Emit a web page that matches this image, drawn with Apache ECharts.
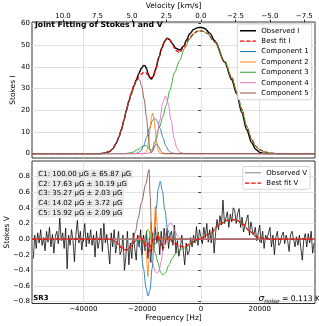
<!DOCTYPE html>
<html><head><meta charset="utf-8">
<script src="https://cdn.jsdelivr.net/npm/echarts@6/dist/echarts.min.js"></script>
<style>html,body{margin:0;padding:0;background:#fff}#c{width:319px;height:326px}</style>
</head><body><div id="c"></div>
<script>
// ---------- data (frequency in Hz) ----------
const freqTicks = [-40000, -20000, 0, 20000];
const velTicks = [10, 7.5, 5, 2.5, 0, -2.5, -5, -7.5];
const iTicks = [0, 10, 20, 30, 40, 50, 60];
const vTicks = [-0.8, -0.6, -0.4, -0.2, 0, 0.2, 0.4, 0.6, 0.8];
const legendI = ['Observed I', 'Best fit I', 'Component 1', 'Component 2', 'Component 3', 'Component 4', 'Component 5'];
const legendV = ['Observed V', 'Best fit V'];
const fitNotes = ['C1: 100.00 \u03bcG \u00b1 65.87 \u03bcG', 'C2: 17.63 \u03bcG \u00b1 10.19 \u03bcG', 'C3: 35.27 \u03bcG \u00b1 2.03 \u03bcG', 'C4: 14.02 \u03bcG \u00b1 3.72 \u03bcG', 'C5: 15.92 \u03bcG \u00b1 2.09 \u03bcG'];

const obsI = [[-57443,0],[-34418,0],[-32718,0.3],[-31017,1.0],[-29997,2.2],[-28738,4.9],[-27956,7.5],[-27038,11],[-26255,15],[-25337,20],[-24555,24],[-23637,27.8],[-22855,31],[-21936,34],[-21154,36.8],[-20236,39.3],[-19454,40.6],[-18944,40.4],[-18433,39],[-17991,37],[-17413,35],[-16835,34.3],[-16223,35.5],[-15372,39],[-14352,44],[-13332,48.5],[-12312,51.8],[-11529,53.2],[-10611,52.5],[-9591,50.5],[-8570,48.5],[-7210,47.7],[-5850,49.5],[-4829,52.5],[-3809,55.2],[-2449,57.2],[-1088,58],[102,58.1],[1292,57.6],[2993,55.5],[4693,52],[8094,42],[10475,34],[12176,27.5],[13876,19],[15577,11],[17277,5],[18637,2],[19996,0.6],[21357,0.1],[23398,0],[38805,0]];
const fitI = [[-57443,0],[-34418,0],[-32718,0.3],[-31017,1.0],[-29997,2.2],[-28738,4.9],[-27956,7.5],[-27038,11],[-26255,15],[-25337,20],[-24555,24],[-23637,27.8],[-22855,31],[-21936,33.5],[-21154,35.3],[-20236,36.6],[-19454,37.4],[-18774,37.3],[-18093,36.3],[-17413,35.2],[-16733,35],[-16053,36.2],[-15372,39],[-14352,44],[-13332,48.5],[-12312,51.8],[-11529,53],[-10611,52.3],[-9591,50],[-8570,47.5],[-7210,46.5],[-5850,49],[-4829,51.5],[-3809,53.5],[-2109,55.8],[-748,56.5],[612,56.4],[1973,55.5],[4693,51.5],[8094,42.5],[10475,35],[12176,28.5],[13876,20.5],[15577,12.5],[17277,6.5],[18637,3.5],[19996,1.8],[21697,0.8],[23398,0.3],[26120,0],[38805,0]];
const c1I = [[-57443,0],[-23000,0],[-21500,0.3],[-20500,1.2],[-19500,3.5],[-18500,7.3],[-17500,11.7],[-16500,15.2],[-15710,16.3],[-14900,15.2],[-13900,11.7],[-12900,7.3],[-11900,3.5],[-10900,1.2],[-9900,0.3],[-8500,0],[38805,0]];
const c2I = [[-57443,0],[-20000,0],[-18900,0.3],[-18300,1.8],[-17800,5.5],[-17300,11.3],[-16850,16.6],[-16430,18.7],[-16010,16.6],[-15560,11.3],[-15060,5.5],[-14560,1.8],[-13960,0.3],[-13000,0],[38805,0]];
const c3I = [[-57443,0],[-25916,0],[-23535,0.5],[-21495,1.8],[-19794,3.3],[-18774,3.8],[-17923,3.0],[-17243,1.5],[-16563,1.8],[-15712,5.5],[-14012,12.4],[-12992,17],[-11733,22.5],[-10611,29],[-8911,37.5],[-7210,43],[-5510,48.5],[-3809,52.8],[-2109,55.5],[-748,56.5],[612,56.4],[1973,55.5],[4693,51.5],[8094,42.5],[10475,35],[12176,28.5],[13876,20.5],[15577,12.5],[17277,6.5],[18637,3.5],[19996,1.8],[21697,0.8],[23398,0.3],[26120,0],[38805,0]];
const c4I = [[-57443,0],[-18500,0],[-17000,0.6],[-16000,2.4],[-15000,7.1],[-14000,15.3],[-13000,23.4],[-12070,26.6],[-11140,23.4],[-10140,15.3],[-9140,7.1],[-8140,2.4],[-7140,0.6],[-5500,0],[38805,0]];
const c5I = [[-57443,0],[-34418,0],[-32718,0.3],[-31017,1.0],[-29997,2.2],[-28738,4.9],[-27956,7.5],[-27038,11],[-26255,15],[-25337,19.5],[-24555,23.5],[-23637,27.3],[-22855,30.5],[-22175,33],[-21392,34.3],[-20814,33.8],[-20134,31],[-19284,25],[-18535,17],[-17923,9],[-17413,2.5],[-16903,0.4],[-16393,1.2],[-15712,3.5],[-15032,4.4],[-14352,3.3],[-13672,1.3],[-12992,0.3],[-11972,0],[38805,0]];

const obsVStartHz = -57000, obsVStepHz = 500;
const obsV = [
 -0.25, 0.05,-0.12, 0.08,-0.05, 0.12,-0.08, 0.02,-0.15, 0.10,
 -0.04, 0.15,-0.10, 0.06,-0.18, 0.04, 0.10,-0.06, 0.27,-0.02,
  0.08,-0.12, 0.14,-0.38, 0.05,-0.08, 0.12,-0.02,-0.29, 0.06,
  0.24,-0.05, 0.10,-0.14, 0.03, 0.20,-0.10, 0.08,-0.06, 0.12,
 -0.08, 0.05,-0.23, 0.10,-0.12,-0.02, 0.14,-0.16, 0.20,-0.05,
  0.06,-0.12,-0.32, 0.08,-0.10, 0.12,-0.18,-0.05, 0.10,-0.20,
 -0.15, 0.05,-0.40,-0.22, 0.10,-0.33,-0.05,-0.25, 0.08,-0.12,
 -0.27, 0.05,-0.10, 0.12,-0.20, 0.05,-0.15, 0.10,-0.25, 0.02,
 -0.30, 0.08,-0.12, 0.15,-0.05, 0.09,-0.20, 0.10,-0.15, 0.14,
 -0.05, 0.14,-0.12, 0.05, 0.10,-0.08, 0.18,-0.18,-0.02,-0.22,
 -0.12, 0.05,-0.15,-0.33,-0.05,-0.20,-0.16, 0.02,-0.10, 0.05,
 -0.05, 0.16,-0.08, 0.12, 0.10,-0.06, 0.15, 0.02, 0.20,-0.04,
  0.12,-0.05, 0.15,-0.18, 0.08, 0.25, 0.12, 0.30, 0.18, 0.50,
  0.20, 0.27, 0.35, 0.15, 0.32, 0.22, 0.40, 0.37, 0.20, 0.33,
  0.39, 0.15, 0.28, 0.09, 0.10, 0.25, 0.31, 0.05, 0.22, 0.12,
  0.05, 0.15,-0.02, 0.08, 0.18,-0.05, 0.10,-0.12, 0.05, 0.00,
  0.08, 0.15,-0.10, 0.05,-0.20, 0.02, 0.10,-0.08,-0.05, 0.04,
  0.09,-0.06, 0.05,-0.02,-0.16, 0.06, 0.10, 0.12,-0.10, 0.03,
 -0.08, 0.05,-0.12,-0.27, 0.00, 0.07,-0.10, 0.07,-0.05, 0.10,
 -0.18,-0.05];
const fitV = [[-57443,0],[-31000,0],[-30000,-0.01],[-29000,-0.03],[-28000,-0.07],[-27000,-0.11],[-26000,-0.135],[-25300,-0.14],[-24500,-0.125],[-23500,-0.08],[-22500,-0.03],[-21500,0.02],[-21000,0.04],[-20200,0.02],[-19700,-0.03],[-19000,-0.08],[-18500,-0.1],[-18000,-0.05],[-17600,-0.04],[-17200,-0.16],[-16700,-0.07],[-16300,0.01],[-15500,0.0],[-14600,0.04],[-14000,-0.02],[-13400,-0.06],[-13000,-0.13],[-12500,-0.1],[-11700,-0.01],[-10850,0.03],[-9700,-0.04],[-8600,-0.06],[-7200,-0.09],[-5500,-0.1],[-3800,-0.06],[-1500,-0.01],[0,0.01],[3000,0.07],[6400,0.19],[9000,0.24],[10500,0.25],[12000,0.245],[14300,0.19],[16600,0.1],[18900,0.03],[21100,0.01],[23400,0],[38805,0]];
const c1V = [[-57443,0],[-22500,0],[-21500,-0.02],[-20500,-0.12],[-19500,-0.38],[-18700,-0.62],[-18000,-0.73],[-17300,-0.65],[-16600,-0.38],[-15900,0],[-15200,0.38],[-14500,0.65],[-13800,0.74],[-13100,0.62],[-12300,0.38],[-11300,0.12],[-10300,0.02],[-9500,0],[38805,0]];
const c2V = [[-57443,0],[-19800,0],[-19000,-0.04],[-18500,-0.2],[-18050,-0.48],[-17700,-0.3],[-17300,0.05],[-16950,0.22],[-16600,0.02],[-16250,-0.15],[-15900,0.12],[-15500,0.42],[-15100,0.28],[-14600,0.06],[-14000,0],[38805,0]];
const c3V = [[-57443,0],[-23000,0],[-21000,-0.02],[-19500,-0.04],[-18800,0.03],[-18200,0.12],[-17600,0.1],[-17000,0.0],[-16300,-0.08],[-15500,-0.18],[-14600,-0.3],[-13800,-0.42],[-12900,-0.46],[-12000,-0.43],[-11000,-0.34],[-9800,-0.25],[-8500,-0.18],[-7200,-0.14],[-6000,-0.12],[-4500,-0.09],[-3000,-0.06],[-1500,-0.02],[0,0.01],[3000,0.07],[6400,0.19],[9000,0.24],[10500,0.25],[12000,0.245],[14300,0.19],[16600,0.1],[18900,0.03],[21100,0.01],[23400,0],[38805,0]];
const c4V = [[-57443,0],[-19000,0],[-18300,-0.03],[-17500,-0.12],[-16500,-0.3],[-15500,-0.42],[-14860,-0.44],[-14200,-0.4],[-13500,-0.28],[-12800,-0.12],[-12300,0],[-11700,0.1],[-11000,0.18],[-10300,0.21],[-9600,0.18],[-8800,0.1],[-8000,0.04],[-7000,0.01],[-6200,0],[38805,0]];
const c5V = [[-57443,0],[-30300,0],[-29000,-0.03],[-28000,-0.07],[-27000,-0.11],[-26000,-0.135],[-25300,-0.14],[-24500,-0.12],[-23800,-0.07],[-23100,-0.01],[-22200,0.1],[-21400,0.26],[-20100,0.48],[-18800,0.7],[-17650,0.89],[-17250,0.55],[-16850,0.15],[-16500,-0.02],[-16000,-0.06],[-15300,-0.06],[-14600,0.0],[-14000,0.04],[-13300,0.03],[-12500,0],[38805,0]];

// ---------- chart ----------
const FONT = 'DejaVu Sans';
const F_MIN = -57443, F_MAX = 38805, HZ_PER_KMS = 4690;
const compColors = ['#1f77b4', '#ff7f0e', '#2ca02c', '#e377c2', '#8c564b'];
const compI = [c1I, c2I, c3I, c4I, c5I];
const compV = [c1V, c2V, c3V, c4V, c5V];
const minus = s => String(s).replace('-', '\u2212');
const GRIDC = '#dadada';
const tickStyle = {color: '#000', width: 0.8};
// legend handle shapes (line samples), box kept 16 x 8
const ICON_THICK = 'path://M0,0L0.01,0ZM0,8L0.01,8ZM0,3.25H16V4.75H0Z';
const ICON_THIN = 'path://M0,0L0.01,0ZM0,8L0.01,8ZM0,3.5H16V4.5H0Z';
const ICON_DASH = 'path://M0,0L0.01,0ZM0,8L0.01,8ZM0,3.3H4.4V4.7H0ZM6.2,3.3H10.6V4.7H6.2ZM12.4,3.3H16V4.7H12.4Z';

function line(name, data, xi, yi, color, width, extra) {
  return Object.assign({
    type: 'line', name: name, data: data, xAxisIndex: xi, yAxisIndex: yi,
    symbol: 'none', showSymbol: false, smooth: 0.3, smoothMonotone: 'x',
    lineStyle: {color: color, width: width}, itemStyle: {color: color},
    emphasis: {disabled: true}, silent: true, animation: false
  }, extra || {});
}

const series = [];
series.push(line('Observed I', obsI, 0, 0, '#000', 1.4));
series.push(line('Best fit I', fitI, 0, 0, '#ff0000', 1.3, {lineStyle: {color: '#ff0000', width: 1.3, type: [4, 2]}}));
compI.forEach((d, k) => series.push(line(legendI[k + 2], d, 0, 0, compColors[k], 0.9)));
series.push(line('Observed V', obsV.map((v, i) => [obsVStartHz + i * obsVStepHz, v]), 2, 1, '#000', 0.9,
  {smooth: false, lineStyle: {color: '#000', width: 0.9, opacity: 0.85}}));
compV.forEach((d, k) => series.push(line('V comp ' + (k + 1), d, 2, 1, compColors[k], 0.9)));
series.push(line('Best fit V', fitV, 2, 1, '#ff0000', 1.3, {lineStyle: {color: '#ff0000', width: 1.3, type: [4, 2]}}));

const legendBase = {
  orient: 'vertical', itemWidth: 16.7, itemHeight: 8, itemGap: 0, selectedMode: false,
  backgroundColor: 'rgba(255,255,255,0.85)', borderColor: '#cccccc', borderWidth: 0.8, borderRadius: 2,
  textStyle: {fontFamily: FONT, fontSize: 7, color: '#000', lineHeight: 10.4}
};
const legendIData = legendI.map((n, k) => ({name: n, icon: k === 0 ? ICON_THICK : (k === 1 ? ICON_DASH : ICON_THIN)}));
const legendVData = [
  {name: legendV[0], icon: ICON_THIN, itemStyle: {color: '#888888'}},
  {name: legendV[1], icon: ICON_DASH}
];

const graphics = [
  {type: 'text', x: 35, y: 25.5, z: 100, style: {text: 'Joint Fitting of Stokes I and V', font: 'bold 7.7px "DejaVu Sans"', fill: '#000', verticalAlign: 'middle'}},
  {type: 'text', x: 33.3, y: 298.6, z: 100, style: {text: 'SR3', font: 'bold 7px "DejaVu Sans"', fill: '#000', verticalAlign: 'middle'}},
  {type: 'text', x: 320, y: 298.6, z: 100, style: {
    text: '{s|\u03c3}{sub|noise}{n| = 0.113 K}', align: 'right', verticalAlign: 'middle', fill: '#000',
    rich: {
      s: {fontFamily: FONT, fontStyle: 'italic', fontSize: 9, lineHeight: 11, verticalAlign: 'middle'},
      sub: {fontFamily: FONT, fontStyle: 'italic', fontSize: 5.8, lineHeight: 11, verticalAlign: 'bottom'},
      n: {fontFamily: FONT, fontSize: 7.6, lineHeight: 11, verticalAlign: 'middle'}
    }}}
];
fitNotes.forEach((t, i) => graphics.push({type: 'text', x: 36.8, y: 174 + 9.7 * i, z: 100, style: {
  text: t, font: '7px "DejaVu Sans"', fill: '#000', verticalAlign: 'middle',
  backgroundColor: 'rgba(215,215,215,0.55)', padding: [1, 1.5]}}));

const nameStyle = {fontSize: 7.5, color: '#000', fontFamily: FONT};
const option = {
  animation: false,
  backgroundColor: '#fff',
  textStyle: {fontFamily: FONT},
  grid: [
    {left: 32, top: 22, width: 283, height: 136, show: true, borderColor: '#000', borderWidth: 0.8, backgroundColor: 'transparent', containLabel: false, outerBoundsMode: 'none'},
    {left: 32, top: 161, width: 283, height: 142.5, show: true, borderColor: '#000', borderWidth: 0.8, backgroundColor: 'transparent', containLabel: false, outerBoundsMode: 'none'}
  ],
  xAxis: [
    {gridIndex: 0, type: 'value', min: F_MIN, max: F_MAX, position: 'bottom',
     axisLine: {show: false}, axisTick: {show: false, customValues: freqTicks},
     axisLabel: {show: false, customValues: freqTicks},
     splitLine: {show: true, lineStyle: {color: GRIDC, width: 0.8}}},
    {gridIndex: 0, type: 'value', min: -F_MAX / HZ_PER_KMS, max: -F_MIN / HZ_PER_KMS, inverse: true, position: 'top',
     axisLine: {show: false}, axisTick: {show: true, length: 2.5, inside: false, customValues: velTicks, lineStyle: tickStyle},
     axisLabel: {customValues: velTicks, formatter: v => minus(v.toFixed(1)), fontSize: 7, color: '#000', margin: 2, fontFamily: FONT},
     splitLine: {show: false},
     name: 'Velocity [km/s]', nameLocation: 'middle', nameGap: 12, nameMoveOverlap: false, nameTextStyle: nameStyle},
    {gridIndex: 1, type: 'value', min: F_MIN, max: F_MAX, position: 'bottom',
     axisLine: {show: false}, axisTick: {show: true, length: 2.5, customValues: freqTicks, lineStyle: tickStyle},
     axisLabel: {customValues: freqTicks, formatter: v => minus(v), fontSize: 7, color: '#000', margin: 2, fontFamily: FONT},
     splitLine: {show: true, lineStyle: {color: GRIDC, width: 0.8}},
     name: 'Frequency [Hz]', nameLocation: 'middle', nameGap: 11, nameMoveOverlap: false, nameTextStyle: nameStyle}
  ],
  yAxis: [
    {gridIndex: 0, type: 'value', min: -2.0, max: 60.6,
     axisLine: {show: false}, axisTick: {show: true, length: 2.5, customValues: iTicks, lineStyle: tickStyle},
     axisLabel: {customValues: iTicks, fontSize: 7, color: '#000', margin: 2, fontFamily: FONT},
     splitLine: {show: true, lineStyle: {color: GRIDC, width: 0.8}},
     name: 'Stokes I', nameLocation: 'middle', nameGap: 14.5, nameMoveOverlap: false, nameTextStyle: nameStyle},
    {gridIndex: 1, type: 'value', min: -0.825, max: 1.0,
     axisLine: {show: false}, axisTick: {show: true, length: 2.5, customValues: vTicks, lineStyle: tickStyle},
     axisLabel: {customValues: vTicks, formatter: v => minus(v.toFixed(1)), fontSize: 7, color: '#000', margin: 2, fontFamily: FONT},
     splitLine: {show: true, lineStyle: {color: GRIDC, width: 0.8}},
     name: 'Stokes V', nameLocation: 'middle', nameGap: 21, nameMoveOverlap: false, nameTextStyle: nameStyle}
  ],
  legend: [
    Object.assign({}, legendBase, {data: legendIData, left: 237.3, top: 24, padding: [1.5, 3, 1.5, 2.7]}),
    Object.assign({}, legendBase, {data: legendVData, left: 242.7, top: 166.5, padding: [1, 3, 1, 2.3]})
  ],
  graphic: graphics,
  series: series
};

const chart = echarts.init(document.getElementById('c'), null, {renderer: 'canvas', width: 319, height: 326, devicePixelRatio: 1});
chart.setOption(option);
</script></body></html>
